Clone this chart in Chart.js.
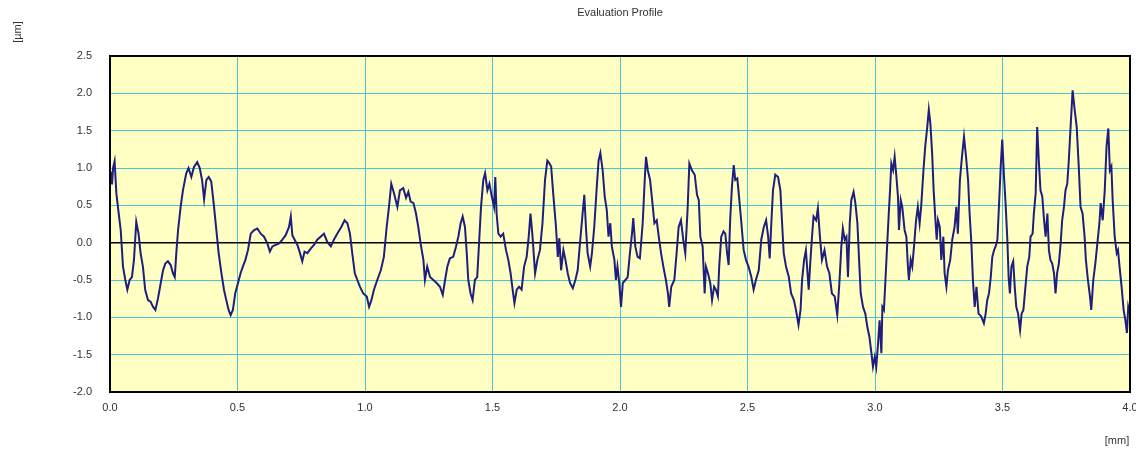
<!DOCTYPE html>
<html>
<head>
<meta charset="utf-8">
<title>Evaluation Profile</title>
<script src="https://cdn.jsdelivr.net/npm/chart.js@4/dist/chart.umd.min.js"></script>
<style>
  html, body { margin: 0; padding: 0; background: #ffffff; }
  #wrap { width: 1136px; height: 450px; }
</style>
</head>
<body>
<div id="wrap"><canvas id="profile" width="1136" height="450"></canvas></div>
<script>
// Evaluation length positions [mm]
const positionsMm = [
  0.000, 0.004, 0.008, 0.012, 0.018, 0.025, 0.031, 0.042, 0.051, 0.060,
  0.068, 0.077, 0.086, 0.094, 0.103, 0.112, 0.120, 0.129, 0.138, 0.149,
  0.159, 0.169, 0.178, 0.188, 0.199, 0.208, 0.217, 0.227, 0.238, 0.247,
  0.254, 0.260, 0.267, 0.277, 0.286, 0.299, 0.308, 0.319, 0.329, 0.342,
  0.352, 0.361, 0.369, 0.378, 0.387, 0.397, 0.408, 0.417, 0.426, 0.437,
  0.447, 0.456, 0.465, 0.473, 0.482, 0.491, 0.502, 0.512, 0.521, 0.531,
  0.541, 0.552, 0.565, 0.578, 0.591, 0.604, 0.617, 0.627, 0.637, 0.650,
  0.663, 0.676, 0.689, 0.702, 0.709, 0.715, 0.724, 0.735, 0.745, 0.754,
  0.763, 0.774, 0.787, 0.800, 0.813, 0.826, 0.839, 0.852, 0.866, 0.878,
  0.891, 0.907, 0.920, 0.931, 0.941, 0.950, 0.960, 0.970, 0.980, 0.993,
  1.007, 1.016, 1.025, 1.035, 1.048, 1.062, 1.074, 1.085, 1.094, 1.103,
  1.114, 1.127, 1.137, 1.150, 1.161, 1.170, 1.179, 1.190, 1.200, 1.209,
  1.218, 1.229, 1.235, 1.244, 1.255, 1.268, 1.281, 1.294, 1.305, 1.314,
  1.323, 1.333, 1.346, 1.357, 1.366, 1.375, 1.383, 1.392, 1.399, 1.405,
  1.414, 1.422, 1.431, 1.440, 1.448, 1.455, 1.464, 1.471, 1.480, 1.488,
  1.497, 1.506, 1.511, 1.516, 1.523, 1.532, 1.542, 1.553, 1.562, 1.571,
  1.579, 1.586, 1.595, 1.604, 1.614, 1.624, 1.634, 1.642, 1.649, 1.657,
  1.667, 1.676, 1.686, 1.696, 1.706, 1.715, 1.720, 1.730, 1.739, 1.749,
  1.756, 1.762, 1.769, 1.778, 1.786, 1.795, 1.804, 1.815, 1.825, 1.834,
  1.843, 1.851, 1.860, 1.867, 1.873, 1.883, 1.890, 1.899, 1.909, 1.916,
  1.923, 1.932, 1.940, 1.948, 1.955, 1.962, 1.968, 1.978, 1.984, 1.990,
  1.997, 2.004, 2.011, 2.021, 2.030, 2.039, 2.047, 2.052, 2.060, 2.069,
  2.078, 2.089, 2.097, 2.102, 2.109, 2.118, 2.126, 2.135, 2.144, 2.152,
  2.161, 2.170, 2.180, 2.188, 2.193, 2.201, 2.213, 2.222, 2.230, 2.239,
  2.248, 2.256, 2.265, 2.272, 2.282, 2.293, 2.302, 2.309, 2.315, 2.324,
  2.332, 2.337, 2.345, 2.354, 2.361, 2.369, 2.376, 2.384, 2.389, 2.397,
  2.406, 2.413, 2.420, 2.426, 2.432, 2.439, 2.446, 2.452, 2.460, 2.468,
  2.475, 2.485, 2.494, 2.504, 2.515, 2.524, 2.533, 2.544, 2.554, 2.564,
  2.573, 2.581, 2.587, 2.594, 2.600, 2.609, 2.620, 2.629, 2.635, 2.642,
  2.651, 2.662, 2.671, 2.682, 2.690, 2.700, 2.708, 2.714, 2.722, 2.729,
  2.740, 2.746, 2.753, 2.759, 2.769, 2.776, 2.784, 2.792, 2.802, 2.812,
  2.821, 2.831, 2.842, 2.852, 2.861, 2.868, 2.874, 2.881, 2.888, 2.894,
  2.901, 2.907, 2.916, 2.923, 2.931, 2.937, 2.944, 2.953, 2.962, 2.970,
  2.978, 2.986, 2.992, 2.999, 3.005, 3.012, 3.018, 3.025, 3.029, 3.035,
  3.041, 3.048, 3.054, 3.059, 3.064, 3.071, 3.077, 3.084, 3.090, 3.094,
  3.101, 3.107, 3.116, 3.123, 3.129, 3.133, 3.140, 3.146, 3.153, 3.161,
  3.168, 3.175, 3.181, 3.190, 3.197, 3.205, 3.211, 3.217, 3.224, 3.230,
  3.237, 3.242, 3.247, 3.254, 3.260, 3.268, 3.273, 3.280, 3.286, 3.295,
  3.303, 3.312, 3.319, 3.325, 3.333, 3.341, 3.349, 3.357, 3.365, 3.371,
  3.378, 3.384, 3.391, 3.398, 3.406, 3.417, 3.427, 3.434, 3.440, 3.447,
  3.454, 3.460, 3.467, 3.473, 3.480, 3.486, 3.493, 3.499, 3.506, 3.512,
  3.519, 3.524, 3.529, 3.535, 3.542, 3.548, 3.554, 3.561, 3.569, 3.575,
  3.582, 3.589, 3.597, 3.605, 3.610, 3.618, 3.623, 3.630, 3.636, 3.643,
  3.649, 3.656, 3.663, 3.669, 3.676, 3.682, 3.688, 3.695, 3.702, 3.708,
  3.714, 3.721, 3.728, 3.734, 3.741, 3.747, 3.754, 3.760, 3.767, 3.775,
  3.783, 3.791, 3.799, 3.806, 3.814, 3.822, 3.827, 3.835, 3.843, 3.848,
  3.856, 3.864, 3.872, 3.880, 3.885, 3.893, 3.901, 3.908, 3.915, 3.921,
  3.927, 3.932, 3.940, 3.948, 3.953, 3.959, 3.967, 3.975, 3.982, 3.988,
  3.993, 3.999
];

// Profile height at each position [µm]
const heightsUm = [
  0.80, 0.95, 0.78, 1.00, 1.09, 0.66, 0.48, 0.17, -0.32, -0.50,
  -0.63, -0.50, -0.46, -0.23, 0.28, 0.12, -0.14, -0.32, -0.63, -0.77,
  -0.79, -0.86, -0.90, -0.75, -0.54, -0.37, -0.28, -0.25, -0.30, -0.41,
  -0.46, -0.14, 0.17, 0.48, 0.70, 0.93, 1.00, 0.88, 1.01, 1.08,
  1.00, 0.84, 0.58, 0.84, 0.88, 0.82, 0.48, 0.17, -0.14, -0.41,
  -0.63, -0.77, -0.90, -0.97, -0.90, -0.68, -0.54, -0.41, -0.32, -0.23,
  -0.10, 0.12, 0.17, 0.19, 0.12, 0.08, -0.01, -0.12, -0.05, -0.03,
  -0.01, 0.04, 0.10, 0.21, 0.35, 0.10, 0.04, -0.03, -0.14, -0.25,
  -0.12, -0.14, -0.08, -0.03, 0.04, 0.08, 0.12, 0.01, -0.05, 0.04,
  0.12, 0.21, 0.30, 0.26, 0.12, -0.14, -0.41, -0.50, -0.59, -0.68,
  -0.72, -0.86, -0.77, -0.63, -0.50, -0.37, -0.19, 0.21, 0.48, 0.79,
  0.66, 0.48, 0.70, 0.73, 0.60, 0.68, 0.55, 0.53, 0.39, 0.21,
  -0.01, -0.23, -0.50, -0.32, -0.46, -0.50, -0.54, -0.59, -0.70, -0.50,
  -0.32, -0.21, -0.19, -0.05, 0.08, 0.26, 0.35, 0.21, -0.14, -0.50,
  -0.68, -0.77, -0.50, -0.46, 0.04, 0.48, 0.84, 0.93, 0.70, 0.79,
  0.62, 0.48, 0.88, 0.39, 0.12, 0.08, 0.12, -0.10, -0.23, -0.41,
  -0.63, -0.81, -0.63, -0.59, -0.63, -0.32, -0.19, 0.08, 0.39, 0.08,
  -0.41, -0.23, -0.10, 0.26, 0.84, 1.10, 1.08, 1.02, 0.62, 0.21,
  -0.19, 0.06, -0.37, -0.10, -0.23, -0.41, -0.54, -0.61, -0.50, -0.37,
  -0.01, 0.30, 0.64, 0.17, -0.14, -0.32, -0.14, 0.21, 0.75, 1.10,
  1.20, 0.97, 0.62, 0.44, 0.08, 0.26, -0.05, -0.23, -0.50, -0.32,
  -0.54, -0.86, -0.54, -0.50, -0.46, -0.14, 0.12, 0.33, -0.05, -0.19,
  -0.21, 0.26, 0.84, 1.15, 0.97, 0.84, 0.57, 0.26, 0.30, 0.08,
  -0.14, -0.32, -0.50, -0.68, -0.86, -0.59, -0.50, -0.14, 0.21, 0.30,
  0.04, -0.14, 0.44, 1.06, 0.97, 0.91, 0.64, 0.57, 0.08, -0.05,
  -0.68, -0.32, -0.41, -0.54, -0.77, -0.59, -0.63, -0.72, -0.32, 0.08,
  0.15, 0.12, -0.14, -0.30, 0.30, 0.75, 1.04, 0.84, 0.86, 0.57,
  0.30, -0.10, -0.23, -0.32, -0.46, -0.63, -0.50, -0.37, 0.04, 0.21,
  0.30, 0.08, -0.21, 0.30, 0.70, 0.91, 0.88, 0.70, 0.30, -0.14,
  -0.32, -0.46, -0.68, -0.77, -0.90, -1.10, -0.90, -0.50, -0.23, -0.10,
  -0.63, -0.28, 0.08, 0.35, 0.30, 0.46, 0.08, -0.23, -0.10, -0.32,
  -0.41, -0.68, -0.72, -0.97, -0.50, -0.05, 0.19, 0.04, 0.08, -0.46,
  0.26, 0.57, 0.68, 0.53, 0.26, -0.19, -0.68, -0.86, -0.95, -1.13,
  -1.26, -1.48, -1.66, -1.53, -1.66, -1.35, -1.04, -1.48, -0.86, -0.90,
  -0.50, -0.01, 0.39, 0.70, 1.06, 0.97, 1.15, 0.88, 0.62, 0.17,
  0.57, 0.48, 0.17, 0.08, -0.32, -0.50, -0.23, -0.32, -0.05, 0.30,
  0.48, 0.26, 0.48, 0.97, 1.29, 1.55, 1.78, 1.60, 1.20, 0.70,
  0.30, 0.04, 0.30, 0.21, -0.23, 0.08, -0.41, -0.59, -0.37, -0.23,
  0.04, 0.21, 0.48, 0.12, 0.84, 1.15, 1.42, 1.15, 0.84, 0.39,
  -0.01, -0.50, -0.86, -0.59, -0.95, -0.99, -1.08, -0.95, -0.77, -0.68,
  -0.46, -0.19, -0.10, -0.05, 0.04, 0.48, 1.02, 1.38, 0.88, 0.53,
  0.04, -0.46, -0.68, -0.32, -0.25, -0.59, -0.86, -0.95, -1.17, -0.95,
  -0.90, -0.63, -0.32, -0.19, 0.08, 0.12, 0.39, 0.66, 1.55, 1.06,
  0.70, 0.62, 0.30, 0.08, 0.39, -0.10, -0.23, -0.28, -0.41, -0.68,
  -0.41, -0.28, -0.01, 0.30, 0.48, 0.70, 0.79, 1.10, 1.55, 2.04,
  1.78, 1.55, 1.02, 0.48, 0.39, 0.08, -0.23, -0.50, -0.72, -0.90,
  -0.50, -0.28, -0.01, 0.26, 0.53, 0.30, 0.70, 1.29, 1.53, 0.97,
  1.02, 0.57, 0.08, -0.14, -0.10, -0.32, -0.59, -0.90, -1.04, -1.21,
  -0.86, -0.95
];

// Axis tick values
const xTicksMm = [0.0, 0.5, 1.0, 1.5, 2.0, 2.5, 3.0, 3.5, 4.0];
const yTicksUm = [-2.0, -1.5, -1.0, -0.5, 0.0, 0.5, 1.0, 1.5, 2.0, 2.5];

const profilePoints = positionsMm.map((x, i) => ({ x: x, y: heightsUm[i] }));

const LABEL_FONT = { family: 'Arial, "Liberation Sans", sans-serif', size: 11 };
const GRID_COLOR = '#4cc3d2';

// Pale yellow plotting field, black frame, and surrounding captions
const frameAndCaptions = {
  id: 'frameAndCaptions',
  beforeDraw(chart) {
    const { ctx, chartArea: a } = chart;
    ctx.save();
    ctx.fillStyle = '#ffffc4';
    ctx.fillRect(a.left, a.top, a.right - a.left, a.bottom - a.top);
    ctx.restore();
  },
  afterDatasetsDraw(chart) {
    const { ctx, chartArea: a } = chart;
    ctx.save();
    ctx.strokeStyle = '#000000';
    ctx.lineWidth = 2;
    ctx.strokeRect(a.left, a.top, a.right - a.left, a.bottom - a.top);
    ctx.restore();
  },
  afterDraw(chart) {
    const { ctx } = chart;
    ctx.save();
    ctx.fillStyle = '#333333';
    ctx.font = '11px Arial, "Liberation Sans", sans-serif';
    ctx.textAlign = 'center';
    ctx.textBaseline = 'middle';
    ctx.fillText('Evaluation Profile', 620, 13);
    ctx.fillText('[mm]', 1117, 441);
    ctx.translate(18, 32);
    ctx.rotate(-Math.PI / 2);
    ctx.fillText('[µm]', 0, 0);
    ctx.restore();
  }
};

new Chart(document.getElementById('profile'), {
  type: 'line',
  data: {
    datasets: [{
      data: profilePoints,
      borderColor: '#1e1e7c',
      borderWidth: 2,
      pointRadius: 0,
      tension: 0,
      fill: false
    }]
  },
  options: {
    responsive: false,
    animation: false,
    events: [],
    layout: { padding: { top: 56, right: 6, left: 0, bottom: 0 } },
    plugins: { legend: { display: false }, tooltip: { enabled: false }, title: { display: false } },
    scales: {
      x: {
        type: 'linear',
        min: 0,
        max: 4,
        afterFit(scale) {
          scale.height = 58;
          scale.paddingLeft = 0;
          scale.paddingRight = 0;
        },
        afterBuildTicks(scale) { scale.ticks = xTicksMm.map(v => ({ value: v })); },
        ticks: {
          callback: v => Number(v).toFixed(1),
          font: LABEL_FONT,
          color: '#333333',
          padding: 9,
          maxRotation: 0,
          autoSkip: false
        },
        grid: { color: GRID_COLOR, lineWidth: 1, drawTicks: false },
        border: { display: false }
      },
      y: {
        type: 'linear',
        min: -2,
        max: 2.5,
        afterFit(scale) {
          scale.width = 110;
          scale.paddingTop = 0;
          scale.paddingBottom = 0;
        },
        afterBuildTicks(scale) { scale.ticks = yTicksUm.map(v => ({ value: v })); },
        ticks: {
          callback: v => Number(v).toFixed(1),
          font: LABEL_FONT,
          color: '#333333',
          padding: 18,
          autoSkip: false
        },
        grid: {
          color: ctx => (ctx.tick && ctx.tick.value === 0 ? '#000000' : GRID_COLOR),
          lineWidth: ctx => (ctx.tick && ctx.tick.value === 0 ? 1.5 : 1),
          drawTicks: false
        },
        border: { display: false }
      }
    }
  },
  plugins: [frameAndCaptions]
});
</script>
</body>
</html>
